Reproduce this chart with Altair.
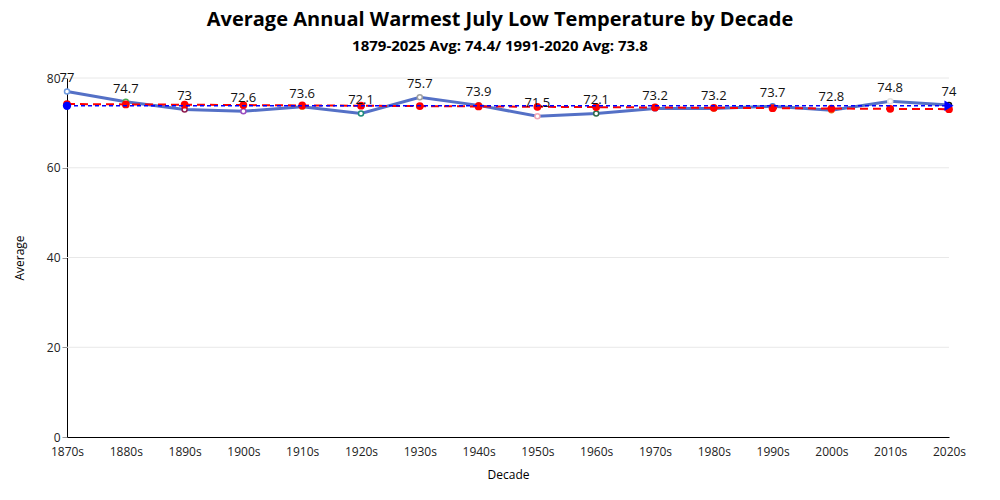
import altair as alt
import pandas as pd

decades = ["1870s", "1880s", "1890s", "1900s", "1910s", "1920s", "1930s", "1940s",
           "1950s", "1960s", "1970s", "1980s", "1990s", "2000s", "2010s", "2020s"]
averages = [77, 74.7, 73, 72.6, 73.6, 72.1, 75.7, 73.9, 71.5, 72.1, 73.2, 73.2, 73.7, 72.8, 74.8, 74]
trend = [74.2, 74.12, 74.05, 73.97, 73.89, 73.82, 73.74, 73.66, 73.59, 73.51,
         73.43, 73.36, 73.28, 73.2, 73.13, 73.05]
normal_value = 73.8
point_colors = ["#6f9be0", "#4caf50", "#8e1d4f", "#9c4fc0", "#e08a2e", "#1e8b7a",
                "#a0a0a0", "#c0392b", "#f0a8b8", "#2f6b4a", "#7a6cc2", "#d4a017",
                "#3b7dd8", "#e67e22", "#e0e0e0", "#111111"]
y_ticks = [0, 20, 40, 60, 80]

FONT = "Open Sans"

df = pd.DataFrame({
    "Decade": decades,
    "Average": averages,
    "Trend": trend,
    "Normal": [normal_value] * len(decades),
    "Color": point_colors,
})
ends = df.iloc[[0, -1]]
grid_df = pd.DataFrame({"tick": y_ticks[1:]})

x = alt.X("Decade:N", sort=decades, title="Decade",
          scale=alt.Scale(type="point", padding=0),
          axis=alt.Axis(labelAngle=0, ticks=False, domainColor="#000000",
                        labelColor="#222222", labelFontSize=12, titleFontSize=12,
                        titleFontWeight="normal", titlePadding=12, labelPadding=9,
                        grid=False))
y_scale = alt.Scale(domain=[0, 80], nice=False)
y_axis = alt.Axis(values=y_ticks, domainColor="#000000", tickColor="#999999",
                  tickSize=5, grid=False, labelColor="#222222", labelFontSize=12,
                  titleFontSize=12, titleFontWeight="normal", titlePadding=20)

base = alt.Chart(df)

grid = alt.Chart(grid_df).mark_rule(color="#e8e8e8", strokeWidth=1).encode(
    y=alt.Y("tick:Q", scale=y_scale))

line = base.mark_line(color="#5470c6", strokeWidth=3).encode(
    x=x, y=alt.Y("Average:Q", scale=y_scale, axis=y_axis, title="Average"))

pts = base.mark_point(filled=False, fill="white", size=25, strokeWidth=1.5, opacity=1).encode(
    x=x, y=alt.Y("Average:Q", scale=y_scale), color=alt.Color("Color:N", scale=None))

labels = base.mark_text(dy=-13, fontSize=13, color="#111111", font=FONT).encode(
    x=x, y=alt.Y("Average:Q", scale=y_scale), text=alt.Text("Average:Q"))

normal_line = base.mark_line(color="#0000ff", strokeWidth=1.5, strokeDash=[4, 3]).encode(
    x=x, y=alt.Y("Normal:Q", scale=y_scale))

normal_start = alt.Chart(ends.iloc[[0]]).mark_point(filled=True, color="#0000ff", size=70, opacity=1).encode(
    x=x, y=alt.Y("Normal:Q", scale=y_scale))
normal_arrow = alt.Chart(ends.iloc[[1]]).mark_point(filled=True, color="#0000ff", shape="triangle-right",
                                                      size=110, opacity=1).encode(
    x=x, y=alt.Y("Normal:Q", scale=y_scale))

trend_line = base.mark_line(color="#ff0000", strokeWidth=2, strokeDash=[8, 5]).encode(
    x=x, y=alt.Y("Trend:Q", scale=y_scale))
trend_pts = base.mark_point(filled=True, color="#ff0000", size=60, opacity=1).encode(
    x=x, y=alt.Y("Trend:Q", scale=y_scale))

chart = alt.layer(line, grid, pts, trend_line, trend_pts, normal_line, normal_start, normal_arrow, labels).properties(
    width=882, height=359,
    autosize=alt.AutoSizeParams(type="none"),
    padding={"left": 59, "top": 70, "right": 43, "bottom": 55},
    title=alt.Title(
        "Average Annual Warmest July Low Temperature by Decade",
        subtitle="1879-2025 Avg: 74.4/ 1991-2020 Avg: 73.8",
        fontSize=20, fontWeight="bold", subtitleFontSize=15, subtitleFontWeight="bold",
        color="#000000", subtitleColor="#000000", anchor="middle", offset=18,
        subtitlePadding=9, dx=-8, font=FONT, subtitleFont=FONT),
).configure(font=FONT, background="white").configure_view(stroke=None)

chart.save("out.html", embed_options={"renderer": "svg", "actions": False})
